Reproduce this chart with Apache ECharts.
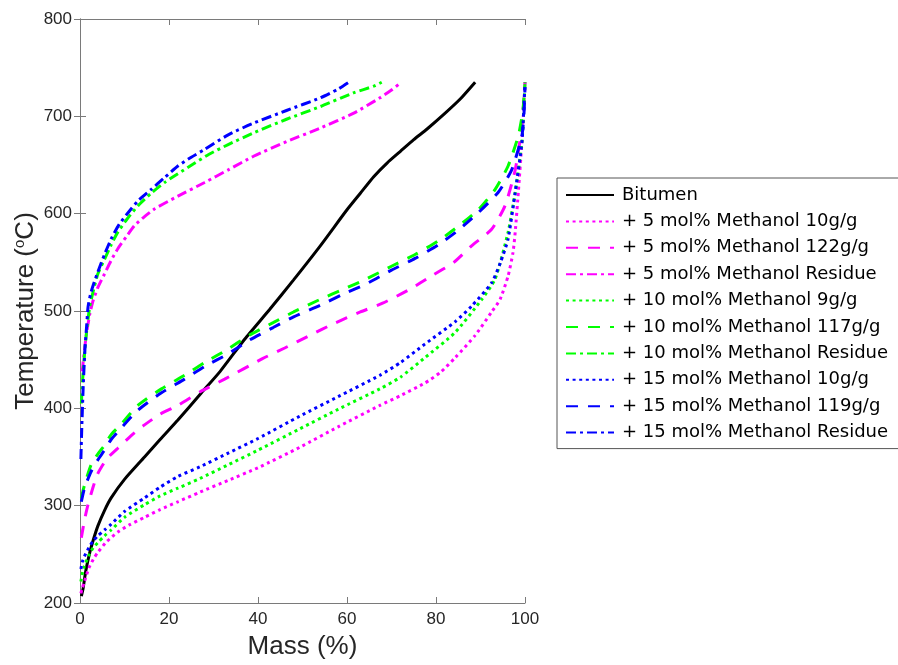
<!DOCTYPE html>
<html><head><meta charset="utf-8">
<script src="https://cdn.jsdelivr.net/npm/echarts@6/dist/echarts.min.js"></script>
<style>html,body{margin:0;padding:0;background:#fff}#c{width:898px;height:665px}</style>
</head><body><div id="c"></div>
<script>
// ---- data (Mass %, Temperature °C) ----
const seriesNames = [
  'Bitumen',
  '+ 5 mol% Methanol 10g/g',
  '+ 5 mol% Methanol 122g/g',
  '+ 5 mol% Methanol Residue',
  '+ 10 mol% Methanol 9g/g',
  '+ 10 mol% Methanol 117g/g',
  '+ 10 mol% Methanol Residue',
  '+ 15 mol% Methanol 10g/g',
  '+ 15 mol% Methanol 119g/g',
  '+ 15 mol% Methanol Residue'
];
const xTicks = [0, 20, 40, 60, 80, 100];
const yTicks = [200, 300, 400, 500, 600, 700, 800];

const bitumen = [[0.3,207],[0.7,215],[1.3,233],[2.2,252],[3,265],[4,279],[5.5,295],[7,308],[10,327],[14.5,350],[18,368],[22,388],[27.3,416],[31.5,438],[37,471],[42.7,502],[48,532],[54,567],[60,604],[63,621],[66,638],[69,652],[72,664],[75,676],[78,687],[82,703],[85.5,718],[88.8,735]];

const m5_10 = [[0.2,210],[0.5,215],[1,222],[2,236],[3,245],[4,252],[6,263],[8.5,273],[11,280],[14.5,288],[18,296],[22,304],[27,314],[33.3,326],[40,339],[49.4,360],[58,381],[67.4,403],[72,413],[77.5,426],[81,437],[84.3,452],[88.8,475],[92.5,499],[94.4,512],[96.2,536],[97.3,560],[97.8,581],[98.5,622],[99.3,673],[99.7,705],[100,735]];
const m5_122 = [[0.3,267],[1,285],[1.8,301],[3,320],[4,333],[6,348],[8.5,359],[11.5,372],[14.5,383],[18,394],[22,403],[27,417],[32.5,430],[41,451],[46,462],[51.7,475],[57,487],[63,499],[68,508],[74,522],[79,536],[84,550],[88,567],[92.5,584],[95.5,608],[97.8,645],[99.3,690],[100,735]];
const m5_res = [[0.5,438],[1,460],[1.5,478],[2.2,497],[2.9,510],[4,524],[5.5,538],[7,552],[8.5,564],[10.5,577],[12.3,588],[14.5,597],[16.8,605],[22,618],[28,632],[33.3,645],[39,659],[46.4,674],[54,688],[61.4,703],[67.4,719],[70,727],[72.2,735]];

const m10_9 = [[0.2,222],[0.5,230],[1,238],[2,249],[3,257],[4,262],[5.5,269],[7,275],[10,288],[14.5,301],[18,310],[22,318],[27,328],[33.3,342],[40,357],[49.4,379],[58,399],[67.4,420],[72,432],[77.5,452],[84.3,478],[90.3,512],[93.3,533],[96.2,581],[97.8,622],[99.3,673],[99.7,705],[100,735]];
const m10_117 = [[0.3,308],[1,321],[2.5,342],[4,353],[5.5,362],[7,373],[9.3,384],[13,403],[18.3,420],[23.5,434],[28,447],[33.3,461],[38,475],[43.4,488],[48,499],[54,512],[59,522],[64.4,533],[70,546],[75.3,558],[80.5,572],[85,587],[89.5,604],[93.3,625],[96.2,649],[98.5,680],[99.5,705],[100,733]];
const m10_res = [[0.3,405],[0.6,430],[1,455],[1.5,480],[2.2,505],[2.9,519],[4,538],[5.5,553],[7,568],[8.5,581],[10.5,594],[13,608],[16,621],[19,632],[22,641],[25.8,652],[29,661],[33.3,671],[39,683],[46.4,697],[54,710],[61.4,724],[66,731],[67.8,735]];

const m15_10 = [[0.2,235],[0.5,242],[1,248],[2,257],[3,264],[4,269],[5.5,275],[7,281],[10,294],[14.5,308],[18,319],[22,330],[27,340],[33.3,354],[40,369],[49.4,392],[58,412],[67.4,434],[72,447],[77.5,466],[84.3,489],[88,505],[92.5,529],[94.5,550],[96.2,574],[97.8,622],[99.3,673],[99.7,705],[100,733]];
const m15_119 = [[0.3,304],[1,318],[2.5,335],[4,347],[5.5,357],[7,368],[9.3,380],[13,398],[18.3,416],[23.5,430],[28,443],[33.3,456],[38,470],[43.4,483],[48,494],[54,506],[59,517],[64.4,528],[70,542],[75.3,554],[80.5,568],[85,583],[89.5,601],[94,622],[97,645],[99.3,680],[99.8,705],[100,730]];
const m15_res = [[0.2,348],[0.4,380],[0.7,420],[1.1,460],[1.5,485],[1.8,504],[2.4,518],[3,527],[4,540],[5.5,558],[7,574],[8.8,589],[10.8,601],[13,613],[16,625],[19,637],[22,649],[25,658],[28,666],[33.3,681],[39,693],[46.4,706],[54,719],[58,728],[60.7,736]];

const seriesData = [bitumen, m5_10, m5_122, m5_res, m10_9, m10_117, m10_res, m15_10, m15_119, m15_res];

// ---- styles ----
const MAG = '#ff00ff', GRN = '#00ff00', BLU = '#0000ff';
const DOT = [3, 3.6], DASH = [12, 10], DASHDOT = [10, 4, 3, 4];
const styles = [
  {color:'#000000', type:'solid', width:3},
  {color:MAG, type:DOT, width:3},
  {color:MAG, type:DASH, width:3},
  {color:MAG, type:DASHDOT, width:3},
  {color:GRN, type:DOT, width:3},
  {color:GRN, type:DASH, width:3},
  {color:GRN, type:DASHDOT, width:3},
  {color:BLU, type:DOT, width:3},
  {color:BLU, type:DASH, width:3},
  {color:BLU, type:DASHDOT, width:3}
];

const AX = '#7a7a7a';
const FONT = 'Liberation Sans';
const series = seriesNames.map((n, i) => ({
  name: n, type: 'line', data: seriesData[i], showSymbol: false, symbol: 'none',
  smooth: 0.2, clip: true,
  lineStyle: {color: styles[i].color, type: styles[i].type, width: styles[i].width, cap: 'butt'},
  itemStyle: {color: styles[i].color},
  emphasis: {disabled: true}
}));

const chart = echarts.init(document.getElementById('c'), null, {renderer: 'canvas'});
const commonAxis = {
  axisLine: {show: true, lineStyle: {color: AX, width: 1}},
  axisTick: {show: true, inside: true, length: 6, lineStyle: {color: AX}},
  splitLine: {show: false}
};
chart.setOption({
  animation: false,
  backgroundColor: '#ffffff',
  grid: {left: 80, top: 19, width: 445, height: 586, containLabel: false},
  legend: {
    orient: 'vertical', left: 557, top: 178,
    data: seriesNames,
    itemWidth: 48, itemHeight: 14, itemGap: 6.4,
    padding: [7, 12, 6, 8],
    borderColor: '#555', borderWidth: 1, backgroundColor: '#fff',
    itemStyle: {opacity: 0},
    textStyle: {fontFamily: 'DejaVu Sans', fontSize: 18, color: '#000', lineHeight: 20, padding: [0, 0, 0, 3]},
    selectedMode: false
  },
  xAxis: [
    Object.assign({type: 'value', min: xTicks[0], max: xTicks[xTicks.length-1], interval: 20, position: 'bottom',
      name: 'Mass (%)', nameLocation: 'middle', nameGap: 31,
      nameTextStyle: {fontFamily: FONT, fontSize: 26, color: '#262626'},
      axisLabel: {show: true, fontFamily: FONT, fontSize: 17, color: '#262626', margin: 8}}, commonAxis),
    Object.assign({type: 'value', min: 0, max: 100, interval: 20, position: 'top', axisLabel: {show: false}}, commonAxis)
  ],
  yAxis: [
    Object.assign({type: 'value', min: yTicks[0], max: yTicks[yTicks.length-1], interval: 100, position: 'left',
      name: 'Temperature ({sup|o}C)', nameLocation: 'middle', nameGap: 41, nameRotate: 90,
      nameTextStyle: {fontFamily: FONT, fontSize: 26, color: '#262626',
        rich: {sup: {fontFamily: FONT, fontSize: 15, color: '#262626', padding: [0, 0, 12, 0]}}},
      axisLabel: {show: true, fontFamily: FONT, fontSize: 17, color: '#262626', margin: 8}}, commonAxis),
    Object.assign({type: 'value', min: 200, max: 800, interval: 100, position: 'right', axisLabel: {show: false}}, commonAxis)
  ],
  series: series
});
</script>
</body></html>
